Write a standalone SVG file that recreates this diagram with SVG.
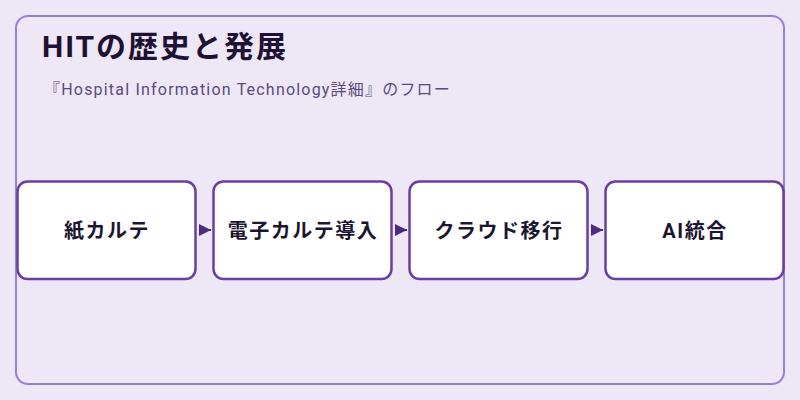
<svg xmlns="http://www.w3.org/2000/svg" width="800" height="400" viewBox="0 0 800 400">
<defs>
<style>
.frame{fill:#ede7f6;stroke:#9a7fd1;stroke-width:2}
.box{fill:#ffffff;stroke:#6a3fa2;stroke-width:2.5}
.lbl{font-family:Roboto,"Noto Sans CJK JP",sans-serif;font-weight:700;font-size:20px;fill:#1c1530;text-anchor:middle;letter-spacing:1.5px}
.title{font-family:Roboto,"Noto Sans CJK JP",sans-serif;font-weight:700;font-size:30px;fill:#1e1133;letter-spacing:2px}
.sub{font-family:Roboto,"Noto Sans CJK JP",sans-serif;font-size:16px;fill:#5b4a82;letter-spacing:1.2px}
.conn{stroke:#4b2a80;stroke-width:2;fill:none}
</style>
<marker id="arr" viewBox="0 0 12 12" refX="12" refY="6" markerWidth="12" markerHeight="12" markerUnits="userSpaceOnUse" orient="auto">
<path d="M0,0 L12,6 L0,12 Z" fill="#4b2a80"/>
</marker>
</defs>
<rect x="0" y="0" width="800" height="400" fill="#ede7f6"/>
<rect class="frame" x="16" y="16" width="768" height="368" rx="12"/>
<text class="title" x="42" y="57">HITの歴史と発展</text>
<text class="sub" x="44" y="95">『Hospital Information Technology詳細』のフロー</text>
<g id="connectors">
<line class="conn" x1="199" y1="230" x2="211" y2="230" marker-end="url(#arr)"/>
<line class="conn" x1="395" y1="230" x2="407" y2="230" marker-end="url(#arr)"/>
<line class="conn" x1="591" y1="230" x2="603" y2="230" marker-end="url(#arr)"/>
</g>
<g id="node1"><rect class="box" x="17.5" y="181.5" width="178" height="97.5" rx="10"/><text class="lbl" x="107" y="238">紙カルテ</text></g>
<g id="node2"><rect class="box" x="213.5" y="181.5" width="178" height="97.5" rx="10"/><text class="lbl" x="303" y="238">電子カルテ導入</text></g>
<g id="node3"><rect class="box" x="409.5" y="181.5" width="178" height="97.5" rx="10"/><text class="lbl" x="499" y="238">クラウド移行</text></g>
<g id="node4"><rect class="box" x="605.5" y="181.5" width="178" height="97.5" rx="10"/><text class="lbl" x="695" y="238">AI統合</text></g>
</svg>
